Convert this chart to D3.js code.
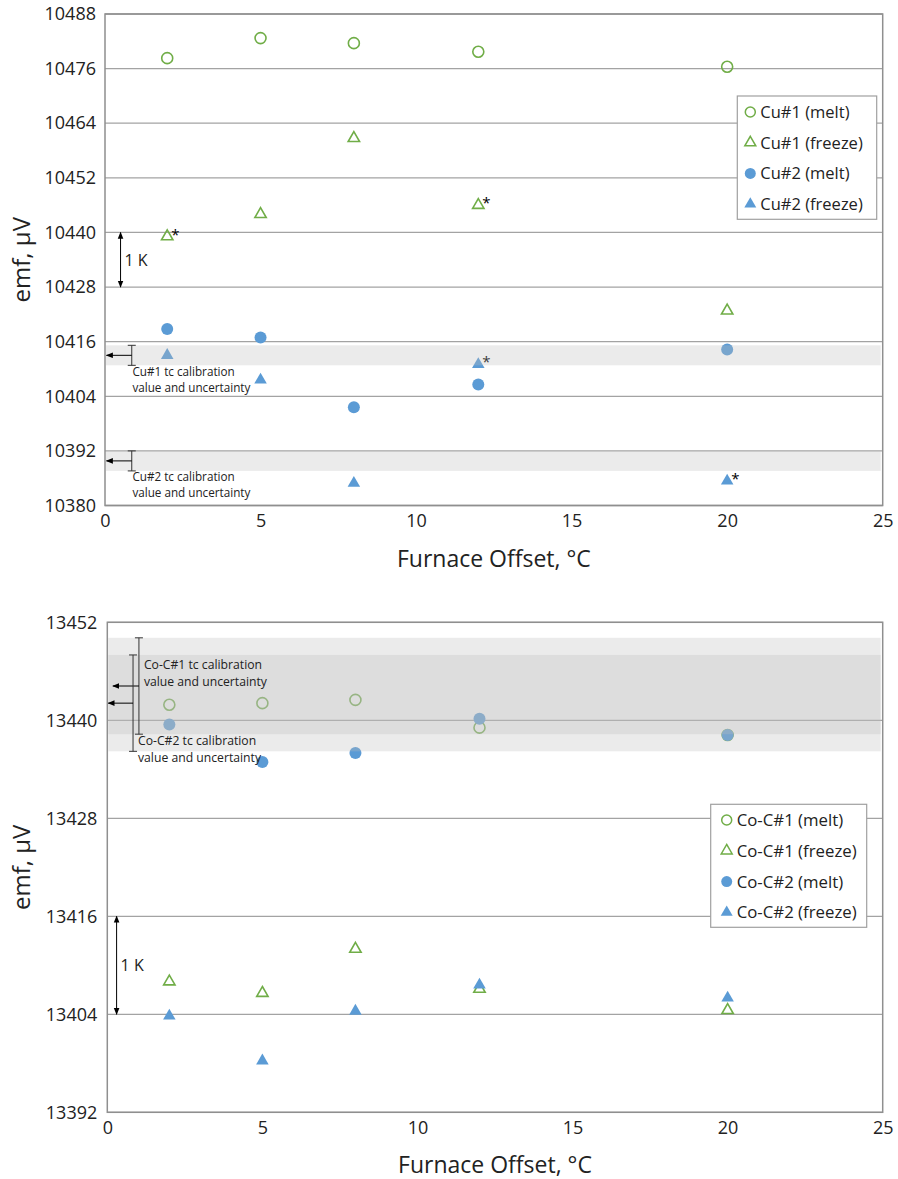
<!DOCTYPE html>
<html>
<head>
<meta charset="utf-8">
<script src="https://cdn.jsdelivr.net/npm/d3@7"></script>
<style>
  body { margin: 0; background: #fff; }
  svg { display: block; font-family: "Open Sans", "Noto Sans", sans-serif; }
</style>
</head>
<body>
<svg id="chart" width="898" height="1179"></svg>
<script>
// ---------- DATA ----------
const offsets = [2, 5, 8, 12, 20];
const xTicks = [0, 5, 10, 15, 20, 25];

// Top panel (Cu)
const cuSeriesNames = ["Cu#1 (melt)", "Cu#1 (freeze)", "Cu#2 (melt)", "Cu#2 (freeze)"];
const cu1Melt   = [10478.3, 10482.7, 10481.6, 10479.7, 10476.4];
const cu1Freeze = [10439.1, 10444.0, 10460.7, 10446.0, 10422.8];
const cu2Melt   = [10418.8, 10416.9, 10401.6, 10406.6, 10414.3];
const cu2Freeze = [10413.0, 10407.6, 10384.9, 10411.0, 10385.4];
const cuYTicks  = [10380, 10392, 10404, 10416, 10428, 10440, 10452, 10464, 10476, 10488];
// asterisks: [seriesIndex, pointIndex]
const cuAsterisks = [[1, 0], [1, 3], [3, 3], [3, 4]];
const cuCalNames  = ["Cu#1 tc calibration", "Cu#2 tc calibration"];
const cuCalValue  = [10413.0, 10389.8];
const cuCalUnc    = [2.2, 2.2];
const cuOneK      = [10428, 10440];

// Bottom panel (Co-C)
const coSeriesNames = ["Co-C#1 (melt)", "Co-C#1 (freeze)", "Co-C#2 (melt)", "Co-C#2 (freeze)"];
const co1Melt   = [13441.9, 13442.1, 13442.5, 13439.1, 13438.2];
const co1Freeze = [13408.0, 13406.6, 13412.0, 13407.1, 13404.5];
const co2Melt   = [13439.5, 13434.9, 13436.0, 13440.2, 13438.2];
const co2Freeze = [13403.8, 13398.3, 13404.4, 13407.6, 13406.0];
const coYTicks  = [13392, 13404, 13416, 13428, 13440, 13452];
const coAsterisks = [];
const coCalNames  = ["Co-C#1 tc calibration", "Co-C#2 tc calibration"];
const coCalValue  = [13444.2, 13442.1];
const coCalUnc    = [5.9, 5.9];
const coOneK      = [13404, 13416];

const valueLabel = "value and uncertainty";
const xTitle = "Furnace Offset, °C";
const yTitle = "emf, µV";

// ---------- STYLE ----------
const GREEN = "#70ad47", BLUE = "#5b9bd5";
const seriesStyle = [
  { shape: "circle", fill: false, color: GREEN },
  { shape: "triangle", fill: false, color: GREEN },
  { shape: "circle", fill: true, color: BLUE },
  { shape: "triangle", fill: true, color: BLUE }
];

const svg = d3.select("#chart");
const defs = svg.append("defs");
defs.append("marker").attr("id", "ah").attr("viewBox", "0 0 10 10")
  .attr("refX", 9).attr("refY", 5).attr("markerWidth", 7).attr("markerHeight", 7)
  .attr("markerUnits", "userSpaceOnUse").attr("orient", "auto-start-reverse")
  .append("path").attr("d", "M0,1 L10,5 L0,9 Z").attr("fill", "#000");

function drawPanel(cfg) {
  const g = svg.append("g");
  const x = d3.scaleLinear().domain([0, 25]).range([cfg.left, cfg.right]);
  const y = d3.scaleLinear().domain(d3.extent(cfg.yTicks)).range([cfg.bottom, cfg.top]);

  // gridlines
  g.append("g").selectAll("line").data(cfg.yTicks).join("line")
    .attr("x1", cfg.left).attr("x2", cfg.right)
    .attr("y1", d => y(d)).attr("y2", d => y(d))
    .attr("stroke", "#a3a3a3").attr("stroke-width", 1.3);

  // frame
  g.append("rect").attr("x", cfg.left).attr("y", cfg.top)
    .attr("width", cfg.right - cfg.left).attr("height", cfg.bottom - cfg.top)
    .attr("fill", "none").attr("stroke", "#8f8f8f").attr("stroke-width", 1.5);

  // axes labels
  const yAxis = d3.axisLeft(y).tickValues(cfg.yTicks).tickSize(0).tickPadding(cfg.yPad).tickFormat(d3.format("d"));
  const ya = g.append("g").attr("transform", `translate(${cfg.left},0)`).call(yAxis);
  ya.select(".domain").remove();
  ya.selectAll("text").attr("font-size", 18).attr("fill", "#222").attr("font-family", "Open Sans");

  const xAxis = d3.axisBottom(x).tickValues(xTicks).tickSize(0).tickPadding(9);
  const xa = g.append("g").attr("transform", `translate(0,${cfg.bottom})`).call(xAxis);
  xa.select(".domain").remove();
  xa.selectAll("text").attr("font-size", 18).attr("fill", "#222").attr("font-family", "Open Sans");

  // axis titles
  g.append("text").attr("x", (cfg.left + cfg.right) / 2).attr("y", cfg.xTitleY)
    .attr("text-anchor", "middle").attr("font-size", 23).attr("fill", "#222").text(xTitle);
  g.append("text").attr("transform", `translate(${cfg.yTitleX},${(cfg.top + cfg.bottom) / 2}) rotate(-90)`)
    .attr("text-anchor", "middle").attr("font-size", 24).attr("fill", "#222").text(yTitle);

  // markers
  cfg.series.forEach((vals, si) => {
    const st = seriesStyle[si];
    const mg = g.append("g");
    if (st.shape === "circle") {
      mg.selectAll("circle").data(vals).join("circle")
        .attr("cx", (d, i) => x(offsets[i])).attr("cy", d => y(d))
        .attr("r", st.fill ? 6 : 5.5)
        .attr("fill", st.fill ? st.color : "none")
        .attr("stroke", st.color).attr("stroke-width", st.fill ? 0 : 1.6);
    } else {
      mg.selectAll("path").data(vals).join("path")
        .attr("transform", (d, i) => `translate(${x(offsets[i])},${y(d)})`)
        .attr("d", d3.symbol().type(d3.symbolTriangle).size(st.fill ? 68 : 56)())
        .attr("fill", st.fill ? st.color : "none")
        .attr("stroke", st.color).attr("stroke-width", st.fill ? 0 : 1.6);
    }
  });

  // asterisks
  g.selectAll("text.ast").data(cfg.asterisks).join("text").attr("class", "ast")
    .attr("x", d => x(offsets[d[1]]) + 4)
    .attr("y", d => y(cfg.series[d[0]][d[1]]) + 3)
    .attr("font-size", 15).attr("fill", "#000").text("*");

  // calibration bands (drawn on top, translucent)
  cfg.calValue.forEach((v, i) => {
    g.append("rect").attr("x", cfg.left + 1).attr("width", cfg.right - cfg.left - 3)
      .attr("y", y(v + cfg.calUnc[i])).attr("height", y(v - cfg.calUnc[i]) - y(v + cfg.calUnc[i]))
      .attr("fill", "rgb(190,190,190)").attr("fill-opacity", 0.3);
  });

  // calibration annotations
  cfg.calValue.forEach((v, i) => {
    const bx = x(cfg.barX[i]);
    const yt = y(v + cfg.calUnc[i]), yb = y(v - cfg.calUnc[i]);
    const ann = g.append("g").attr("stroke", "#333").attr("stroke-width", 1);
    ann.append("line").attr("x1", bx).attr("x2", bx).attr("y1", yt).attr("y2", yb);
    ann.append("line").attr("x1", bx - 4).attr("x2", bx + 4).attr("y1", yt).attr("y2", yt);
    ann.append("line").attr("x1", bx - 4).attr("x2", bx + 4).attr("y1", yb).attr("y2", yb);
    ann.append("line").attr("x1", bx).attr("x2", x(cfg.arrowTo[i])).attr("y1", y(v)).attr("y2", y(v))
      .attr("stroke", "#000").attr("marker-end", "url(#ah)");
    const tx = x(cfg.labelX[i]);
    const ty = cfg.labelY[i];
    g.append("text").attr("x", tx).attr("y", ty).attr("font-size", cfg.calFont).attr("fill", "#222").text(cfg.calNames[i]);
    g.append("text").attr("x", tx).attr("y", ty + cfg.calLine).attr("font-size", cfg.calFont).attr("fill", "#222").text(valueLabel);
  });

  // 1 K arrow
  const kx = x(cfg.oneKX);
  g.append("line").attr("x1", kx).attr("x2", kx)
    .attr("y1", y(cfg.oneK[1])).attr("y2", y(cfg.oneK[0]))
    .attr("stroke", "#000").attr("stroke-width", 1)
    .attr("marker-start", "url(#ah)").attr("marker-end", "url(#ah)");
  g.append("text").attr("x", kx + 4).attr("y", (y(cfg.oneK[0]) + y(cfg.oneK[1])) / 2 + 6)
    .attr("font-size", 16).attr("fill", "#222").text("1 K");

  // legend
  const lg = g.append("g");
  lg.append("rect").attr("x", cfg.legend.x).attr("y", cfg.legend.y)
    .attr("width", cfg.legend.w).attr("height", cfg.legend.h)
    .attr("fill", "#fff").attr("stroke", "#a0a0a0").attr("stroke-width", 1.2);
  cfg.names.forEach((nm, i) => {
    const st = seriesStyle[i];
    const cy = cfg.legend.y + cfg.legend.first + i * cfg.legend.step;
    const mx = cfg.legend.x + cfg.legend.mx;
    if (st.shape === "circle") {
      lg.append("circle").attr("cx", mx).attr("cy", cy).attr("r", st.fill ? 5.5 : 5)
        .attr("fill", st.fill ? st.color : "none").attr("stroke", st.color).attr("stroke-width", st.fill ? 0 : 1.5);
    } else {
      lg.append("path").attr("transform", `translate(${mx},${cy})`)
        .attr("d", d3.symbol().type(d3.symbolTriangle).size(st.fill ? 62 : 52)())
        .attr("fill", st.fill ? st.color : "none").attr("stroke", st.color).attr("stroke-width", st.fill ? 0 : 1.5);
    }
    lg.append("text").attr("x", mx + 10).attr("y", cy + 6).attr("font-size", cfg.legend.font).attr("fill", "#222").text(nm);
  });
}

drawPanel({
  left: 105, right: 882.7, top: 14, bottom: 505.5, yPad: 9,
  yTicks: cuYTicks, series: [cu1Melt, cu1Freeze, cu2Melt, cu2Freeze], names: cuSeriesNames,
  asterisks: cuAsterisks, calNames: cuCalNames, calValue: cuCalValue, calUnc: cuCalUnc,
  barX: [0.86, 0.86], arrowTo: [0.05, 0.05], labelX: [0.88, 0.88], labelY: [376, 481], calFont: 11.7, calLine: 16,
  oneK: cuOneK, oneKX: 0.5, xTitleY: 567, yTitleX: 30,
  legend: { x: 737.3, y: 96, w: 139.4, h: 123.3, first: 16, step: 30.7, mx: 13, font: 16.5 }
});

drawPanel({
  left: 107.3, right: 882.7, top: 622.3, bottom: 1112.3, yPad: 10,
  yTicks: coYTicks, series: [co1Melt, co1Freeze, co2Melt, co2Freeze], names: coSeriesNames,
  asterisks: coAsterisks, calNames: coCalNames, calValue: coCalValue, calUnc: coCalUnc,
  barX: [1.02, 0.83], arrowTo: [0.18, 0.03], labelX: [1.18, 0.99], labelY: [669, 745], calFont: 12.2, calLine: 16.5,
  oneK: coOneK, oneKX: 0.3, xTitleY: 1173, yTitleX: 30,
  legend: { x: 710.7, y: 804.3, w: 156, h: 123, first: 15.7, step: 30.8, mx: 16, font: 16.8 }
});
</script>
</body>
</html>
